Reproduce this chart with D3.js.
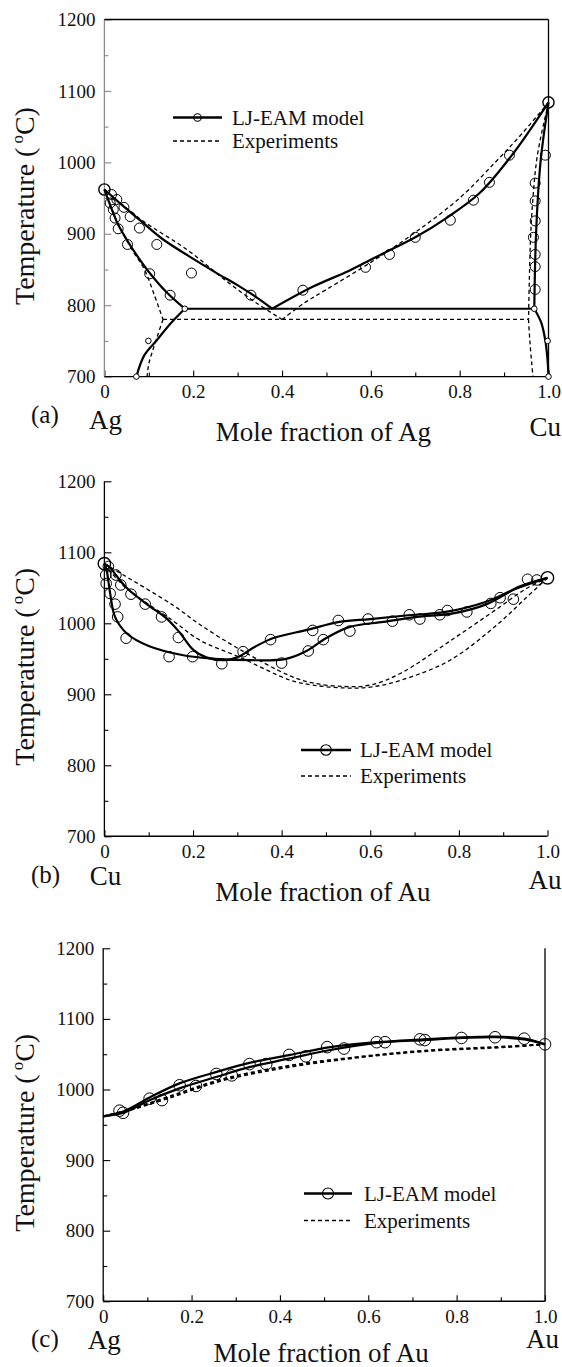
<!DOCTYPE html>
<html>
<head>
<meta charset="utf-8">
<script src="https://cdn.jsdelivr.net/npm/d3@7"></script>
<style>
  html, body { margin: 0; padding: 0; background: #fff; }
  svg { display: block; }
  svg text { font-family: "Liberation Serif", "Times New Roman", "DejaVu Serif", serif !important; fill: #111; }
</style>
</head>
<body>
<svg id="fig" width="562" height="1367"></svg>
<script>
// ---------- shared axis values ----------
const tempMajorTicks = [700, 800, 900, 1000, 1100, 1200];
const tempMinorTicks = [750, 850, 950, 1050, 1150];
const fracMajorTicks = [0, 0.2, 0.4, 0.6, 0.8, 1.0];
const fracMinorTicks = [0.1, 0.3, 0.5, 0.7, 0.9];
const legendLabels = ["LJ-EAM model", "Experiments"];

// ---------- (a) Ag–Cu : [fraction, temperature °C] ----------
const agcuModelLiqLeft  = [[0,962],[0.04,940],[0.08,919],[0.13,893],[0.192,868],[0.25,846],[0.305,826],[0.345,810],[0.378,795]];
const agcuModelSolLeft  = [[0,962],[0.013,940],[0.03,914],[0.05,892],[0.075,868],[0.102,845],[0.14,818],[0.181,795]];
const agcuModelSolvLeft = [[0.181,795],[0.15,775],[0.118,751],[0.09,730],[0.072,700]];
const agcuModelLiqRight = [[0.378,795],[0.47,826],[0.55,848],[0.62,870],[0.70,895],[0.77,922],[0.845,957],[0.92,1012],[1.0,1084]];
const agcuModelSolRight = [[1.0,1084],[0.982,1000],[0.972,900],[0.968,795]];
const agcuModelSolvRight= [[0.968,795],[0.984,775],[0.993,750],[0.998,722],[1.0,700]];
const agcuModelEutectic = [[0.181,795],[0.968,795]];
const agcuExpLiqLeft    = [[0,962],[0.08,921],[0.19,876],[0.27,836],[0.34,804],[0.40,780]];
const agcuExpLiqRight   = [[0.40,780],[0.45,803],[0.50,822],[0.60,860],[0.70,902],[0.80,950],[0.88,1000],[0.94,1040],[1.0,1084]];
const agcuExpSolLeft    = [[0,962],[0.03,915],[0.06,880],[0.09,850],[0.112,815],[0.132,780]];
const agcuExpSolvLeft   = [[0.132,780],[0.12,758],[0.108,735],[0.10,718],[0.096,700]];
const agcuExpSolRight   = [[1.0,1084],[0.975,1010],[0.965,950],[0.96,900],[0.957,840],[0.955,780]];
const agcuExpSolvRight  = [[0.955,780],[0.958,750],[0.962,720],[0.965,700]];
const agcuExpEutectic   = [[0.132,780],[0.955,780]];
const agcuSimPoints = [
  [0.016,955],[0.028,948],[0.044,937],[0.058,924],[0.079,908],[0.118,885],[0.196,845],[0.33,814],
  [0.013,943],[0.02,934],[0.024,922],[0.031,907],[0.052,885],[0.102,844],[0.148,814],
  [0.447,821],[0.588,853],[0.642,871],[0.70,895],[0.779,919],[0.831,947],[0.867,972],[0.912,1010],
  [0.97,971],[0.97,946],[0.97,918],[0.966,895],[0.97,871],[0.97,854],[0.97,822],[0.993,1010]
];
const agcuSimSmallPoints = [[0.181,795],[0.968,795],[0.099,750],[0.072,700],[0.998,750],[1.0,700]];
const agcuMeltPoints = [[0,962],[1.0,1084]];

// ---------- (b) Cu–Au ----------
const cuauModelUpper = [[0,1084],[0.01,1080],[0.05,1050],[0.10,1025],[0.14,1007],[0.17,987],[0.20,963],[0.23,952],[0.27,948],[0.30,952],[0.34,967],[0.38,979],[0.46,991],[0.53,1002],[0.60,1006],[0.68,1011],[0.77,1016],[0.86,1030],[0.93,1049],[1.0,1064]];
const cuauModelLower = [[0,1084],[0.005,1075],[0.013,1042],[0.024,1009],[0.05,986],[0.10,968],[0.178,955],[0.25,950],[0.33,948],[0.41,950],[0.456,961],[0.50,979],[0.554,995],[0.63,1002],[0.705,1009],[0.787,1014],[0.863,1027],[0.938,1052],[1.0,1064]];
const cuauExpLiquidus = [[0,1084],[0.043,1068],[0.156,1025],[0.216,998],[0.306,963],[0.419,926],[0.47,916],[0.54,911],[0.60,913],[0.67,930],[0.78,975],[0.89,1022],[0.95,1048],[1.0,1064]];
const cuauExpSolidus  = [[0,1084],[0.043,1053],[0.156,1003],[0.216,976],[0.306,952],[0.419,920],[0.47,913],[0.54,909],[0.60,910],[0.67,920],[0.78,948],[0.89,1000],[0.95,1035],[1.0,1064]];
const cuauSimPoints = [
  [0.009,1080],[0.003,1068],[0.004,1056],[0.013,1042],[0.024,1027],[0.03,1009],[0.049,979],[0.146,953],[0.199,953],
  [0.026,1068],[0.037,1054],[0.06,1041],[0.092,1027],[0.129,1009],[0.167,980],[0.265,943],
  [0.313,960],[0.375,977],[0.40,944],[0.46,961],[0.47,990],[0.494,977],[0.528,1004],[0.554,989],[0.595,1006],
  [0.65,1003],[0.688,1012],[0.712,1006],[0.757,1012],[0.774,1018],[0.818,1016],[0.872,1028],[0.893,1036],
  [0.923,1034],[0.955,1062],[0.976,1061]
];
const cuauMeltPoints = [[0,1084],[1.0,1064]];

// ---------- (c) Ag–Au ----------
const agauModelUpper = [[0,962],[0.05,970],[0.106,989],[0.174,1009],[0.257,1025],[0.333,1038],[0.423,1049],[0.514,1060],[0.619,1067],[0.725,1071],[0.815,1074],[0.887,1075],[0.953,1072],[1.0,1064]];
const agauModelLower = [[0,962],[0.05,968],[0.106,985],[0.174,1002],[0.257,1018],[0.333,1032],[0.423,1044],[0.514,1056],[0.619,1066],[0.725,1070],[0.815,1073],[0.887,1074],[0.953,1071],[1.0,1064]];
const agauExpLiquidus = [[0,962],[0.05,970],[0.144,989],[0.272,1015],[0.423,1034],[0.574,1046],[0.725,1055],[0.913,1061],[1.0,1064]];
const agauExpSolidus  = [[0,962],[0.05,969],[0.144,987],[0.272,1013],[0.423,1032],[0.574,1045],[0.725,1054],[0.913,1060],[1.0,1064]];
const agauSimPoints = [
  [0.037,970],[0.045,967],[0.105,987],[0.133,985],[0.173,1006],[0.21,1005],[0.256,1022],[0.291,1020],
  [0.331,1036],[0.369,1036],[0.421,1049],[0.459,1047],[0.507,1060],[0.545,1058],[0.619,1067],[0.638,1067],
  [0.717,1071],[0.728,1070],[0.811,1073],[0.887,1074],[0.953,1072],[1.0,1064]
];

// ---------- layout ----------
const panels = [
  {
    box: {left: 104.4, right: 548.5, top: 19.5, bottom: 376.6},
    frame: {top: true, right: true}, leftAxisColor: "#8a8a8a",
    letter: "(a)", elemLeft: "Ag", elemRight: "Cu", title: "Mole fraction of Ag",
    text: {letter: 46, elemLeft: 52, elemRight: 59, title: 64},
    model: [agcuModelLiqLeft, agcuModelSolLeft, agcuModelSolvLeft, agcuModelLiqRight, agcuModelSolRight, agcuModelSolvRight],
    modelStraight: [agcuModelEutectic],
    exp: [agcuExpLiqLeft, agcuExpLiqRight, agcuExpSolLeft, agcuExpSolvLeft, agcuExpSolRight, agcuExpSolvRight],
    expStraight: [agcuExpEutectic],
    points: agcuSimPoints, pointR: 5, small: agcuSimSmallPoints, big: agcuMeltPoints, bigR: 5.6,
    expWidth: 1.3,
    legend: {x1: 173, x2: 222, y1: 117.5, y2: 141, tx: 232, r: 3.8}
  },
  {
    box: {left: 104.4, right: 547.5, top: 481.3, bottom: 836.3},
    frame: {top: false, right: false}, leftAxisColor: "#000",
    letter: "(b)", elemLeft: "Cu", elemRight: "Au", title: "Mole fraction of Au",
    text: {letter: 47, elemLeft: 49, elemRight: 53, title: 65},
    model: [cuauModelUpper, cuauModelLower], modelStraight: [],
    exp: [cuauExpLiquidus, cuauExpSolidus], expStraight: [],
    points: cuauSimPoints, pointR: 5.3, small: [], big: cuauMeltPoints, bigR: 6.2,
    expWidth: 1.3,
    legend: {x1: 301, x2: 351, y1: 750, y2: 776, tx: 360, r: 5.3}
  },
  {
    box: {left: 103.2, right: 545, top: 948.3, bottom: 1301.3},
    frame: {top: false, right: true}, leftAxisColor: "#000",
    letter: "(c)", elemLeft: "Ag", elemRight: "Au", title: "Mole fraction of Au",
    text: {letter: 46, elemLeft: 48, elemRight: 47, title: 61},
    model: [agauModelUpper, agauModelLower], modelStraight: [],
    exp: [agauExpLiquidus, agauExpSolidus], expStraight: [],
    points: agauSimPoints, pointR: 5.8, small: [], big: [], bigR: 6,
    expWidth: 1.8,
    legend: {x1: 304, x2: 352, y1: 1193.5, y2: 1220.5, tx: 364, r: 5.5}
  }
];

const svg = d3.select("#fig");

function drawPanel(p) {
  const b = p.box;
  const g = svg.append("g");
  const x = d3.scaleLinear().domain([0, 1]).range([b.left, b.right]);
  const y = d3.scaleLinear().domain([700, 1200]).range([b.bottom, b.top]);

  // ticks point inward; minor ticks carry no labels
  const yMinor = g.append("g").attr("transform", `translate(${b.left},0)`)
    .call(d3.axisLeft(y).tickValues(tempMinorTicks).tickSizeInner(-4).tickSizeOuter(0).tickFormat(""));
  const yMajor = g.append("g").attr("transform", `translate(${b.left},0)`)
    .call(d3.axisLeft(y).tickValues(tempMajorTicks).tickSizeInner(-7).tickSizeOuter(0).tickPadding(9)
      .tickFormat(d3.format("d")));
  const xMinor = g.append("g").attr("transform", `translate(0,${b.bottom})`)
    .call(d3.axisBottom(x).tickValues(fracMinorTicks).tickSizeInner(-4).tickSizeOuter(0).tickFormat(""));
  const xMajor = g.append("g").attr("transform", `translate(0,${b.bottom})`)
    .call(d3.axisBottom(x).tickValues(fracMajorTicks).tickSizeInner(-6).tickSizeOuter(0).tickPadding(8)
      .tickFormat(d => d === 0 ? "0" : d3.format(".1f")(d)));
  [yMinor, yMajor, xMinor, xMajor].forEach(a => {
    a.attr("font-family", null).attr("font-size", 19);
    a.select(".domain").remove();
    a.selectAll("line").attr("stroke", "#000").attr("stroke-width", 1.1);
  });
  yMajor.selectAll("line").attr("stroke", p.leftAxisColor);
  yMinor.selectAll("line").attr("stroke", p.leftAxisColor);

  // frame
  g.append("line").attr("x1", b.left).attr("x2", b.left).attr("y1", b.top).attr("y2", b.bottom)
    .attr("stroke", p.leftAxisColor).attr("stroke-width", 1.3);
  g.append("line").attr("x1", b.left).attr("x2", b.right).attr("y1", b.bottom).attr("y2", b.bottom)
    .attr("stroke", "#000").attr("stroke-width", 1.4);
  if (p.frame.top) g.append("line").attr("x1", b.left).attr("x2", b.right).attr("y1", b.top).attr("y2", b.top)
    .attr("stroke", "#000").attr("stroke-width", 1.4);
  if (p.frame.right) g.append("line").attr("x1", b.right).attr("x2", b.right).attr("y1", b.top).attr("y2", b.bottom)
    .attr("stroke", "#000").attr("stroke-width", 1.3);

  const smooth = d3.line().x(d => x(d[0])).y(d => y(d[1])).curve(d3.curveCatmullRom.alpha(0.5));
  const straight = d3.line().x(d => x(d[0])).y(d => y(d[1]));

  // experimental boundaries (dashed)
  const ge = g.append("g").attr("fill", "none").attr("stroke", "#000")
    .attr("stroke-width", p.expWidth).attr("stroke-dasharray", "4,3");
  p.exp.forEach(s => ge.append("path").attr("d", smooth(s)));
  p.expStraight.forEach(s => ge.append("path").attr("d", straight(s)));

  // model boundaries (solid)
  const gm = g.append("g").attr("fill", "none").attr("stroke", "#000").attr("stroke-width", 2.2)
    .attr("stroke-linejoin", "round");
  p.model.forEach(s => gm.append("path").attr("d", smooth(s)));
  p.modelStraight.forEach(s => gm.append("path").attr("d", straight(s)));

  // simulation points
  const gp = g.append("g").attr("fill", "none").attr("stroke", "#000").attr("stroke-width", 1);
  gp.selectAll("circle.p").data(p.points).join("circle").attr("class", "p")
    .attr("cx", d => x(d[0])).attr("cy", d => y(d[1])).attr("r", p.pointR);
  gp.selectAll("circle.s").data(p.small).join("circle").attr("class", "s")
    .attr("cx", d => x(d[0])).attr("cy", d => y(d[1])).attr("r", 2.8).attr("fill", "#fff");
  gp.selectAll("circle.b").data(p.big).join("circle").attr("class", "b")
    .attr("cx", d => x(d[0])).attr("cy", d => y(d[1])).attr("r", p.bigR).attr("stroke-width", 1.4);

  // legend
  const L = p.legend;
  g.append("line").attr("x1", L.x1).attr("x2", L.x2).attr("y1", L.y1).attr("y2", L.y1)
    .attr("stroke", "#000").attr("stroke-width", 2.6);
  g.append("circle").attr("cx", (L.x1 + L.x2) / 2).attr("cy", L.y1).attr("r", L.r)
    .attr("fill", "none").attr("stroke", "#000").attr("stroke-width", 1.1);
  g.append("line").attr("x1", L.x1).attr("x2", L.x2).attr("y1", L.y2).attr("y2", L.y2)
    .attr("stroke", "#000").attr("stroke-width", 1.3).attr("stroke-dasharray", "4,3");
  g.append("text").attr("x", L.tx).attr("y", L.y1 + 7).attr("font-size", 21).text(legendLabels[0]);
  g.append("text").attr("x", L.tx).attr("y", L.y2 + 7).attr("font-size", 21).text(legendLabels[1]);

  // axis titles and labels
  const T = p.text;
  g.append("text").attr("x", 31).attr("y", b.bottom + T.letter).attr("font-size", 25).text(p.letter);
  g.append("text").attr("x", b.left + 1).attr("y", b.bottom + T.elemLeft).attr("text-anchor", "middle")
    .attr("font-size", 27).text(p.elemLeft);
  g.append("text").attr("x", b.right - 19).attr("y", b.bottom + T.elemRight)
    .attr("font-size", 27).text(p.elemRight);
  g.append("text").attr("x", (b.left + b.right) / 2 - 3).attr("y", b.bottom + T.title).attr("text-anchor", "middle")
    .attr("font-size", 27).text(p.title);

  const cy = (b.top + b.bottom) / 2 + 8;
  const yt = g.append("text").attr("transform", `translate(34,${cy}) rotate(-90)`)
    .attr("text-anchor", "middle").attr("font-size", 28);
  yt.append("tspan").text("Temperature (");
  yt.append("tspan").attr("dx", 4).attr("dy", -11).attr("font-size", 17).text("o");
  yt.append("tspan").attr("dy", 11).text("C)");
}

panels.forEach(drawPanel);
</script>
</body>
</html>
